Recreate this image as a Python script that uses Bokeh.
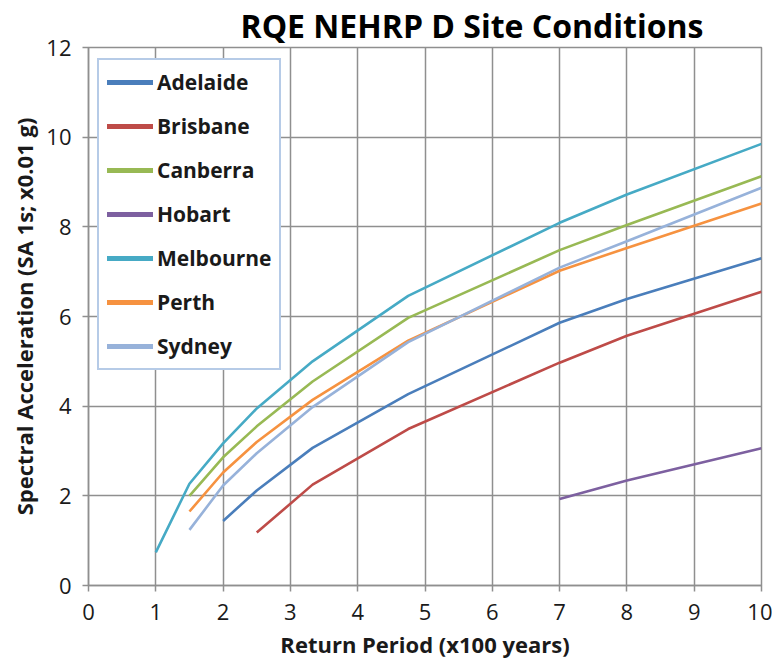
from bokeh.plotting import figure
from bokeh.models import Legend, LegendItem, FixedTicker, Range1d
from bokeh.embed import file_html
from bokeh.resources import INLINE

# ---- data (return period in x100 years, SA 1s in x0.01 g) ----
adelaide_x = [2, 2.5, 3.33, 4.75, 7, 8, 10]
adelaide_y = [1.44, 2.12, 3.07, 4.27, 5.86, 6.39, 7.30]

brisbane_x = [2.5, 3.33, 4.75, 7, 8, 10]
brisbane_y = [1.18, 2.25, 3.49, 4.97, 5.57, 6.55]

canberra_x = [1.5, 2, 2.5, 3.33, 4.75, 7, 8, 10]
canberra_y = [2.00, 2.86, 3.55, 4.55, 5.97, 7.48, 8.04, 9.13]

hobart_x = [7, 8, 10]
hobart_y = [1.93, 2.34, 3.06]

melbourne_x = [1, 1.5, 2, 2.5, 3.33, 4.75, 7, 8, 10]
melbourne_y = [0.74, 2.27, 3.17, 3.95, 5.00, 6.46, 8.09, 8.72, 9.85]

perth_x = [1.5, 2, 2.5, 3.33, 4.75, 7, 8, 10]
perth_y = [1.65, 2.52, 3.20, 4.14, 5.46, 7.02, 7.53, 8.52]

sydney_x = [1.5, 2, 2.5, 3.33, 4.75, 7, 8, 10]
sydney_y = [1.24, 2.23, 2.95, 3.98, 5.43, 7.09, 7.68, 8.87]

cities = ["Adelaide", "Brisbane", "Canberra", "Hobart", "Melbourne", "Perth", "Sydney"]
xs = [adelaide_x, brisbane_x, canberra_x, hobart_x, melbourne_x, perth_x, sydney_x]
ys = [adelaide_y, brisbane_y, canberra_y, hobart_y, melbourne_y, perth_y, sydney_y]
colors = ["#4A7EBB", "#BE4B48", "#98B954", "#7D60A0", "#46AAC5", "#F69240", "#97B2DA"]

title_text = "RQE NEHRP D Site Conditions"
x_ticks = list(range(0, 11))
y_ticks = [0, 2, 4, 6, 8, 10, 12]

GRID = "#8f8f8f"
FONT = "Open Sans"

p = figure(width=772, height=661, output_backend="svg", toolbar_location=None,
           x_range=Range1d(0, 10), y_range=Range1d(0, 12),
           min_border_left=88, min_border_right=11, min_border_top=47,
           min_border_bottom=76)

p.title.text = title_text
p.title.text_font = FONT
p.title.text_font_style = "bold"
p.title.text_font_size = "32px"
p.title.text_color = "#000000"
p.title.align = "left"
p.title.offset = 152
p.title.vertical_align = "middle"
p.title.standoff = 0

p.outline_line_color = GRID
p.outline_line_width = 1.5

for ax, ticks in ((p.xaxis, x_ticks), (p.yaxis, y_ticks)):
    ax.ticker = FixedTicker(ticks=ticks)
    ax.axis_line_color = GRID
    ax.axis_line_width = 1.5
    ax.major_tick_line_color = GRID
    ax.major_tick_line_width = 1.5
    ax.major_tick_in = 0
    ax.major_tick_out = 6
    ax.minor_tick_line_color = None
    ax.major_label_text_font = FONT
    ax.major_label_text_font_size = "22px"
    ax.major_label_text_color = "#1a1a1a"
    ax.axis_label_text_font = FONT
    ax.axis_label_text_font_style = "bold"
    ax.axis_label_text_font_size = "22px"
    ax.axis_label_text_color = "#1a1a1a"

p.xaxis.axis_label = "Return Period (x100 years)"
p.yaxis.axis_label = "Spectral Acceleration (SA 1s; x0.01 g)"
p.xaxis.major_label_standoff = 12
p.yaxis.major_label_standoff = 11
p.xaxis.axis_label_standoff = 6
p.yaxis.axis_label_standoff = 4

p.xgrid.ticker = FixedTicker(ticks=x_ticks)
p.ygrid.ticker = FixedTicker(ticks=y_ticks)
for g in (p.xgrid, p.ygrid):
    g.grid_line_color = GRID
    g.grid_line_width = 1.5

items = []
for name, x, y, c in zip(cities, xs, ys, colors):
    p.line(x, y, line_color=c, line_width=2.6)
    dummy = p.line([float("nan")], [float("nan")], line_color=c, line_width=5,
                   line_cap="round")
    items.append(LegendItem(label=name, renderers=[dummy]))

legend = Legend(items=items, location=(9, 215))
legend.margin = 0
legend.padding = 8
legend.spacing = 16
legend.glyph_width = 46
legend.glyph_height = 20
legend.label_height = 20
legend.label_standoff = 4
legend.label_text_font = FONT
legend.label_text_font_style = "bold"
legend.label_text_font_size = "21px"
legend.label_text_color = "#1a1a1a"
legend.border_line_color = "#6E97D0"
legend.border_line_width = 2
legend.background_fill_color = "white"
legend.background_fill_alpha = 1
p.add_layout(legend)

open("out.html", "w").write(file_html(p, INLINE))
